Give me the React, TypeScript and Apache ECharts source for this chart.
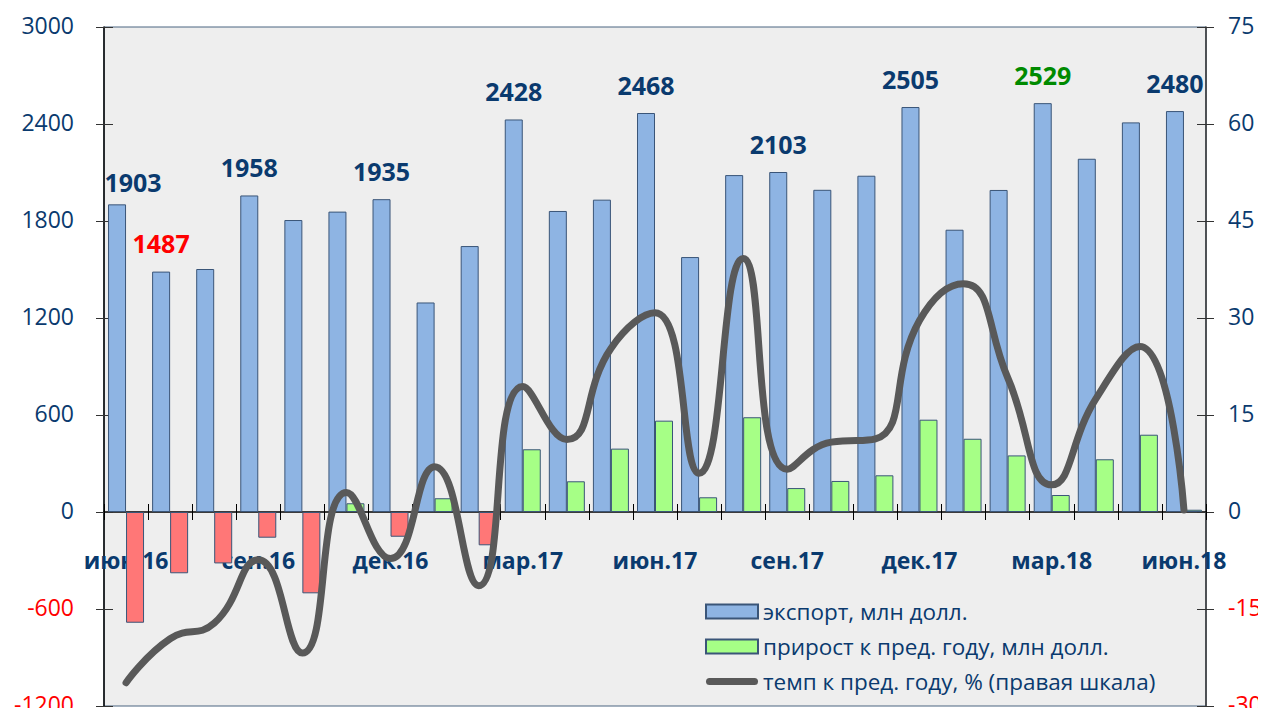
import React, { useEffect, useRef } from "react";
import * as echarts from "echarts";

const categories = [
  "июн.16", "июл.16", "авг.16", "сен.16", "окт.16", "ноя.16", "дек.16",
  "янв.17", "фев.17", "мар.17", "апр.17", "май.17", "июн.17", "июл.17",
  "авг.17", "сен.17", "окт.17", "ноя.17", "дек.17", "янв.18", "фев.18",
  "мар.18", "апр.18", "май.18", "июн.18",
];

const exportValues = [
  1903, 1487, 1503, 1958, 1806, 1858, 1935, 1296, 1645, 2428, 1862, 1932, 2468,
  1577, 2084, 2103, 1993, 2080, 2505, 1746, 1992, 2529, 2185, 2410, 2480,
];

const growthValues = [
  -685, -379, -318, -159, -503, 54, -153, 85, -206, 388, 190, 392, 565, 91, 586,
  148, 192, 227, 571, 453, 350, 105, 326, 478, 14,
];

const rateValues = [
  -26.4, -19.6, -17.2, -7.4, -21.8, 3.0, -7.2, 7.0, -11.4, 19.4, 11.2, 25.3,
  30.8, 6.0, 39.2, 6.6, 10.8, 11.3, 29.6, 35.3, 20.8, 4.2, 17.5, 25.6, 0.3,
];

// labelled export bars: index -> colour
const labelColors: Record<number, string> = {
  0: "#0a3a6e", 1: "#ff0000", 3: "#0a3a6e", 6: "#0a3a6e", 9: "#0a3a6e",
  12: "#0a3a6e", 15: "#0a3a6e", 18: "#0a3a6e", 21: "#008a00", 24: "#0a3a6e",
};

const leftTicks = [-1200, 3000, 600];
const rightTicks = [-30, 75, 15];

const NAVY = "#0a3a6e";
const FONT = "'Open Sans', 'Noto Sans', sans-serif";

const seriesNames = [
  "экспорт, млн долл.",
  "прирост к пред. году, млн долл.",
  "темп к пред. году, % (правая шкала)",
];

const LINE_ICON =
  "path://M3.5,0 L48.5,0 A3.5,3.5 0 0 1 48.5,7 L3.5,7 A3.5,3.5 0 0 1 3.5,0 Z";

const GRID_TOP = 27;
const GRID_BOTTOM = 10;
const CHART_H = 716;

export default function App() {
  const ref = useRef<HTMLDivElement>(null);
  useEffect(() => {
    if (!ref.current) return;
    const chart = echarts.init(ref.current, undefined, { renderer: "svg" });
    const exportData = exportValues.map((v, i) =>
      labelColors[i]
        ? {
            value: v,
            label: {
              show: true,
              color: labelColors[i],
              ...(i === 0 ? { offset: [16, 6] } : {}),
            },
          }
        : v
    );
    const axisColor = (v: any) => (Number(v) < 0 ? "#ff0000" : NAVY);
    const plotH = CHART_H - GRID_TOP - GRID_BOTTOM;
    const zeroFromBottom =
      (plotH * (0 - leftTicks[0])) / (leftTicks[1] - leftTicks[0]);
    const zeroFromTop = plotH - zeroFromBottom;
    const hiddenY = (idx: number, pos: string) => ({
      type: "value",
      position: pos,
      min: idx === 0 ? leftTicks[0] : rightTicks[0],
      max: idx === 0 ? leftTicks[1] : rightTicks[1],
      interval: idx === 0 ? leftTicks[2] : rightTicks[2],
      splitLine: { show: false },
      axisLine: { show: false, onZero: false },
      axisTick: { show: true, inside: true, length: 9, lineStyle: { color: "#333" } },
      axisLabel: { show: false },
    });
    const valueLabel = (margin: number) => ({
      margin,
      fontSize: 23,
      fontFamily: FONT,
      color: axisColor,
      formatter: (v: number) => `{a|${v}}`,
      rich: { a: { fontSize: 23, fontFamily: FONT, padding: [0, 0, 4, 0] } },
    });
    chart.setOption({
      animation: false,
      textStyle: { fontFamily: FONT },
      grid: {
        left: 104,
        right: 60,
        top: GRID_TOP,
        bottom: GRID_BOTTOM,
        containLabel: false,
        outerBoundsMode: "none",
        show: true,
        backgroundColor: "#eeeeee",
        borderColor: "#4a6580",
        borderWidth: 1,
      },
      legend: {
        orient: "vertical",
        left: 700,
        top: 595,
        itemWidth: 52,
        itemHeight: 14,
        itemGap: 12,
        textStyle: { color: NAVY, fontSize: 22.5, fontFamily: FONT },
        data: [
          { name: seriesNames[0], icon: "rect" },
          { name: seriesNames[1], icon: "rect", itemStyle: { color: "#a6ff86" } },
          { name: seriesNames[2], icon: LINE_ICON, itemStyle: { color: "#595959", borderWidth: 0 } },
        ],
      },
      xAxis: [
        {
          type: "category",
          data: categories,
          boundaryGap: true,
          position: "bottom",
          offset: -zeroFromBottom,
          axisLine: { onZero: false, lineStyle: { color: "#000", width: 1.5 } },
          axisTick: { show: true, interval: 0, length: 8, lineStyle: { color: "#000" } },
          axisLabel: {
            interval: 2,
            margin: 36,
            color: NAVY,
            fontSize: 23,
            fontWeight: "bold",
            fontFamily: FONT,
          },
        },
        {
          type: "category",
          data: categories,
          boundaryGap: true,
          position: "top",
          offset: -zeroFromTop,
          axisLine: { show: false, onZero: false },
          axisTick: { show: true, interval: 0, length: 8, lineStyle: { color: "#000" } },
          axisLabel: { show: false },
        },
      ],
      yAxis: [
        {
          type: "value",
          position: "left",
          min: leftTicks[0],
          max: leftTicks[1],
          interval: leftTicks[2],
          splitLine: { show: false },
          axisLine: { show: true, onZero: false, lineStyle: { color: "#000", width: 1.5 } },
          axisTick: { show: true, length: 8, lineStyle: { color: "#333" } },
          axisLabel: valueLabel(30),
        },
        {
          type: "value",
          position: "right",
          min: rightTicks[0],
          max: rightTicks[1],
          interval: rightTicks[2],
          splitLine: { show: false },
          axisLine: { show: true, onZero: false, lineStyle: { color: "#333", width: 1.5 } },
          axisTick: { show: true, length: 8, lineStyle: { color: "#333" } },
          axisLabel: valueLabel(22),
        },
        hiddenY(0, "left"),
        hiddenY(1, "right"),
      ],
      series: [
        {
          name: seriesNames[0],
          type: "bar",
          data: exportData,
          barWidth: 18,
          barGap: "0%",
          itemStyle: { color: "#8eb4e3", borderColor: "#3a5578", borderWidth: 1 },
          label: {
            show: false,
            position: "top",
            distance: 16,
            fontSize: 25,
            fontWeight: "bold",
            fontFamily: FONT,
          },
        },
        {
          name: seriesNames[1],
          type: "bar",
          data: growthValues,
          barWidth: 18,
          barGap: "0%",
          itemStyle: {
            color: (p: any) => (p.value < 0 ? "#ff7777" : "#a6ff86"),
            borderColor: "#3a5578",
            borderWidth: 1,
          },
        },
        {
          name: seriesNames[2],
          type: "line",
          yAxisIndex: 1,
          data: rateValues,
          smooth: 0.5,
          symbol: "none",
          z: 5,
          lineStyle: { color: "#595959", width: 7, cap: "round", join: "round" },
          itemStyle: { color: "#595959" },
        },
      ],
    });
    return () => chart.dispose();
  }, []);
  return <div ref={ref} style={{ width: 1266, height: CHART_H, margin: -8 }} />;
}
